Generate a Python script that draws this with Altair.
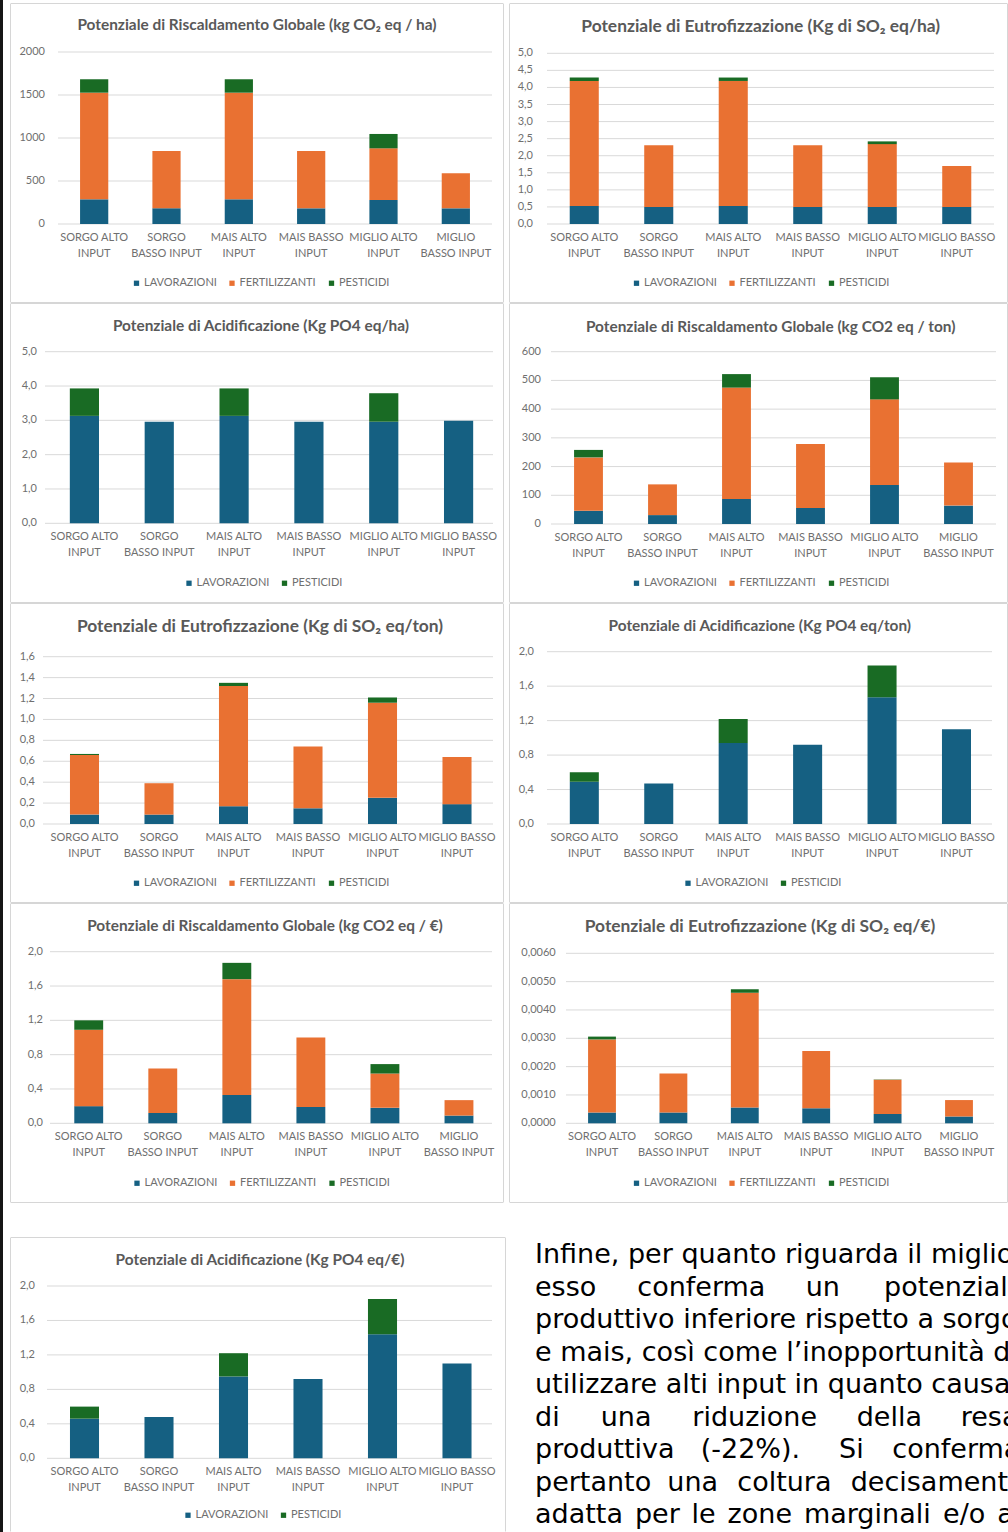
import altair as alt
import pandas as pd

# ---------------------------------------------------------------- data
CATEGORIES = ["SORGO ALTO INPUT", "SORGO BASSO INPUT", "MAIS ALTO INPUT",
              "MAIS BASSO INPUT", "MIGLIO ALTO INPUT", "MIGLIO BASSO INPUT"]

LAV, FERT, PEST = "LAVORAZIONI", "FERTILIZZANTI", "PESTICIDI"

# Global warming potential, kg CO2 eq / ha
GWP_HA_LAV = [287, 182, 287, 182, 279, 182]
GWP_HA_FERT = [1240, 667, 1240, 667, 601, 407]
GWP_HA_PEST = [156, 0, 156, 0, 167, 0]

# Eutrophication potential, kg SO2 eq / ha
EP_HA_LAV = [0.53, 0.50, 0.53, 0.50, 0.50, 0.50]
EP_HA_FERT = [3.66, 1.81, 3.66, 1.81, 1.84, 1.20]
EP_HA_PEST = [0.10, 0.0, 0.10, 0.0, 0.08, 0.0]

# Acidification potential, kg PO4 eq / ha
AP_HA_LAV = [3.13, 2.96, 3.13, 2.96, 2.96, 2.99]
AP_HA_PEST = [0.80, 0.0, 0.80, 0.0, 0.83, 0.0]

# Global warming potential, kg CO2 eq / ton
GWP_TON_LAV = [46, 31, 87, 56, 136, 64]
GWP_TON_FERT = [186, 107, 388, 223, 298, 150]
GWP_TON_PEST = [26, 0, 47, 0, 77, 0]

# Eutrophication potential, kg SO2 eq / ton
EP_TON_LAV = [0.09, 0.09, 0.17, 0.15, 0.25, 0.19]
EP_TON_FERT = [0.57, 0.30, 1.15, 0.59, 0.91, 0.45]
EP_TON_PEST = [0.01, 0.0, 0.03, 0.0, 0.05, 0.0]

# Acidification potential, kg PO4 eq / ton
AP_TON_LAV = [0.49, 0.47, 0.94, 0.92, 1.47, 1.10]
AP_TON_PEST = [0.11, 0.0, 0.28, 0.0, 0.37, 0.0]

# Global warming potential, kg CO2 eq / EUR
GWP_EUR_LAV = [0.20, 0.12, 0.33, 0.19, 0.18, 0.09]
GWP_EUR_FERT = [0.89, 0.52, 1.35, 0.81, 0.40, 0.18]
GWP_EUR_PEST = [0.11, 0.0, 0.19, 0.0, 0.11, 0.0]

# Eutrophication potential, kg SO2 eq / EUR
EP_EUR_LAV = [0.00038, 0.00038, 0.00056, 0.00053, 0.00033, 0.00024]
EP_EUR_FERT = [0.00258, 0.00138, 0.00405, 0.00202, 0.00121, 0.00058]
EP_EUR_PEST = [0.00010, 0.0, 0.00012, 0.0, 0.00001, 0.0]

# Acidification potential, kg PO4 eq / EUR
AP_EUR_LAV = [0.46, 0.48, 0.95, 0.92, 1.44, 1.10]
AP_EUR_PEST = [0.14, 0.0, 0.27, 0.0, 0.41, 0.0]

TITLES = [
    "Potenziale di Riscaldamento Globale (kg CO\u2082 eq / ha)",
    "Potenziale di Eutrofizzazione (Kg di SO\u2082 eq/ha)",
    "Potenziale di Acidificazione (Kg PO4 eq/ha)",
    "Potenziale di Riscaldamento Globale (kg CO2 eq / ton)",
    "Potenziale di Eutrofizzazione (Kg di SO\u2082 eq/ton)",
    "Potenziale di Acidificazione (Kg PO4 eq/ton)",
    "Potenziale di Riscaldamento Globale (kg CO2 eq / \u20ac)",
    "Potenziale di Eutrofizzazione (Kg di SO\u2082 eq/\u20ac)",
    "Potenziale di Acidificazione (Kg PO4 eq/\u20ac)",
]

# y-axis tick values of each chart
TICKS_GWP_HA = [0, 500, 1000, 1500, 2000]
TICKS_EP_HA = [0.0, 0.5, 1.0, 1.5, 2.0, 2.5, 3.0, 3.5, 4.0, 4.5, 5.0]
TICKS_AP_HA = [0.0, 1.0, 2.0, 3.0, 4.0, 5.0]
TICKS_GWP_TON = [0, 100, 200, 300, 400, 500, 600]
TICKS_EP_TON = [0.0, 0.2, 0.4, 0.6, 0.8, 1.0, 1.2, 1.4, 1.6]
TICKS_AP_TON = [0.0, 0.4, 0.8, 1.2, 1.6, 2.0]
TICKS_GWP_EUR = [0.0, 0.4, 0.8, 1.2, 1.6, 2.0]
TICKS_EP_EUR = [0.0, 0.001, 0.002, 0.003, 0.004, 0.005, 0.006]
TICKS_AP_EUR = [0.0, 0.4, 0.8, 1.2, 1.6, 2.0]

# two wrapping styles of the category labels
WRAP_A = [["SORGO ALTO", "INPUT"], ["SORGO", "BASSO INPUT"], ["MAIS ALTO", "INPUT"],
          ["MAIS BASSO", "INPUT"], ["MIGLIO ALTO", "INPUT"], ["MIGLIO", "BASSO INPUT"]]
WRAP_B = [["SORGO ALTO", "INPUT"], ["SORGO", "BASSO INPUT"], ["MAIS ALTO", "INPUT"],
          ["MAIS BASSO", "INPUT"], ["MIGLIO ALTO", "INPUT"], ["MIGLIO BASSO", "INPUT"]]

TEXT_LINES = [
    "Infine, per quanto riguarda il miglio",
    "esso conferma un potenziale",
    "produttivo inferiore rispetto a sorgo",
    "e mais, così come l\u2019inopportunità di",
    "utilizzare alti input in quanto causa",
    "di una riduzione della resa",
    "produttiva (-22%). Si conferma",
    "pertanto una coltura decisamente",
    "adatta per le zone marginali e/o a",
]

# ---------------------------------------------------------------- styling
COLORS = {LAV: "#156082", FERT: "#E97132", PEST: "#196B24"}
FONT = "Lato, 'Noto Sans', sans-serif"
LABEL_COLOR = "#6f6f6f"
TITLE_COLOR = "#595959"
GRID_COLOR = "#d9d9d9"
BORDER_COLOR = "#d6d6d6"

LEFT_W, RIGHT_W = 506, 502
ROW_H = [303, 300, 300, 300, 329]

# justified paragraph layout: word start offsets for stretched lines
TEXT_LEFT = 29
TEXT_BASE = 60.3
TEXT_LEAD = 32.5
WORD_X = {
    1: [29, 131.3, 299.7, 378],
    5: [29, 94.7, 186.3, 350.7, 454.7],
    6: [29, 194.7, 333, 386.3],
    7: [29, 161.3, 231.3, 344.7],
    8: [29, 128.9, 185.6, 221.6, 297.9, 437.1, 491.2],
}

ONE = pd.DataFrame({"k": [0]})


def rule(x1, y1, x2, y2, color=BORDER_COLOR, width=1.0):
    return alt.Chart(ONE).mark_rule(color=color, strokeWidth=width).encode(
        x=alt.value(x1), x2=alt.value(x2), y=alt.value(y1), y2=alt.value(y2))


def block(x1, y1, x2, y2, color):
    return alt.Chart(ONE).mark_rect(color=color, strokeWidth=0).encode(
        x=alt.value(x1), x2=alt.value(x2), y=alt.value(y1), y2=alt.value(y2))


def label_expr(wrap):
    parts = []
    for cat, lines in zip(CATEGORIES, wrap):
        arr = "[" + ",".join("'" + s + "'" for s in lines) + "]"
        parts.append(f"datum.value == '{cat}' ? {arr}")
    return " : ".join(parts) + " : datum.value"


def tick_text(v, decimals):
    if decimals == 0:
        return str(int(round(v)))
    return f"{v:.{decimals}f}".replace(".", ",")


def panel(title, title_size, series, ticks, decimals, wrap, g, col, row):
    names = [s for s, _ in series]
    rows = []
    for si, (s, vals) in enumerate(series):
        for c, v in zip(CATEGORIES, vals):
            rows.append({"cat": c, "series": s, "value": v, "ord": si})
    df = pd.DataFrame(rows)
    w = LEFT_W if col == 0 else RIGHT_W
    h = ROW_H[row]

    yscale = alt.Scale(domain=[ticks[0], ticks[-1]], range=[g["y0"], g["y1"]],
                       nice=False, zero=False)
    xscale = alt.Scale(domain=CATEGORIES, range=[g["x0"], g["x1"]],
                       paddingInner=0.61, paddingOuter=0.305)

    tick_df = pd.DataFrame({"tick": ticks,
                            "lab": [tick_text(t, decimals) for t in ticks]})
    grid = alt.Chart(tick_df).mark_rule(color=GRID_COLOR, strokeWidth=1).encode(
        y=alt.Y("tick:Q", scale=yscale, axis=None),
        x=alt.value(g["gx0"]), x2=alt.value(g["gx1"]))
    ylabels = alt.Chart(tick_df).mark_text(
        font=FONT, fontSize=11, color=LABEL_COLOR, align="right",
        baseline="middle").encode(
        y=alt.Y("tick:Q", scale=yscale, axis=None),
        x=alt.value(g["gx0"] - g["lp"]), text="lab:N")

    legend_w = 262 if len(names) == 3 else 159
    bars = alt.Chart(df).mark_bar().encode(
        x=alt.X("cat:N", scale=xscale, axis=alt.Axis(
            title=None, labelExpr=label_expr(wrap), labelAngle=0,
            labelBaseline="top", labelLineHeight=16, labelPadding=7,
            ticks=False, tickSize=0, domain=False, grid=False,
            offset=-(h - g["y0"]), labelFont=FONT, labelFontSize=11,
            labelColor=LABEL_COLOR, labelOverlap=False, labelLimit=200)),
        y=alt.Y("value:Q", stack="zero", scale=yscale, axis=None),
        color=alt.Color("series:N", scale=alt.Scale(
            domain=names, range=[COLORS[n] for n in names]),
            legend=alt.Legend(
                orient="none", legendX=g["lx"] - legend_w / 2,
                legendY=g["ly"] - 5.5, direction="horizontal",
                columns=len(names), title=None, symbolType="square",
                symbolSize=28, symbolStrokeWidth=0, labelFont=FONT,
                labelFontSize=11, labelColor=LABEL_COLOR, labelOffset=2,
                columnPadding=9.5, padding=0, labelLimit=200)),
        order=alt.Order("ord:Q", sort="ascending"),
    )

    heading = alt.Chart(ONE).mark_text(
        text=title, font=FONT, fontWeight="bold", fontSize=title_size,
        color=TITLE_COLOR, align="center", baseline="middle").encode(
        x=alt.value(g["tx"]), y=alt.value(g["ty"]))

    layers = [grid, ylabels, bars, heading]
    # cell frame
    if row < 4:
        top = 3.5 if row == 0 else 0.5
        bottom = h - 0.5
        if col == 0:
            xl, xr = 10.5, 503.5
        else:
            xl, xr = 3.5, 501.5
        layers += [rule(xl, top, xr, top), rule(xl, bottom, xr, bottom),
                   rule(xl, top + 0.5, xl, bottom - 0.5),
                   rule(xr, top + 0.5, xr, bottom - 0.5)]
    else:
        layers += [rule(10.5, 34.5, 505.5, 34.5), rule(10.5, 35, 10.5, h - 0.5),
                   rule(505.5, 35, 505.5, h - 0.5)]
    if col == 0:
        layers.append(block(0, 0, 3, h, "#161616"))
    return alt.layer(*layers).properties(width=w, height=h)


GEO = [
    dict(y0=224, y1=52, x0=58, x1=492, gx0=58, gx1=492, tx=257, ty=25, lx=262, ly=283, lp=13),
    dict(y0=224, y1=53.3, x0=41, x1=488, gx0=41, gx1=488, tx=254.7, ty=27, lx=256, ly=283, lp=14),
    dict(y0=220.3, y1=48.7, x0=47, x1=496, gx0=45, gx1=493, tx=261, ty=23, lx=263, ly=280, lp=8),
    dict(y0=221, y1=48.7, x0=45.5, x1=489.5, gx0=45, gx1=490, tx=264.7, ty=23.7, lx=256, ly=280, lp=10),
    dict(y0=221, y1=53.7, x0=47.25, x1=494.25, gx0=43, gx1=493, tx=260, ty=23.7, lx=262, ly=280, lp=8),
    dict(y0=221, y1=48.7, x0=41.1, x1=487.7, gx0=41, gx1=486, tx=253.8, ty=23, lx=256, ly=280, lp=13),
    dict(y0=220.3, y1=48.7, x0=51.7, x1=496, gx0=50, gx1=492, tx=265, ty=23, lx=262.5, ly=280, lp=7),
    dict(y0=220.3, y1=50.3, x0=60.3, x1=488.7, gx0=60, gx1=488, tx=254, ty=23.7, lx=256, ly=280, lp=10.3),
    dict(y0=255.3, y1=83, x0=47.25, x1=494.25, gx0=47, gx1=492, tx=260, ty=57, lx=262, ly=312, lp=12),
]

T_SMALL, T_BIG = 15.4, 17.4

p1 = panel(TITLES[0], T_SMALL, [(LAV, GWP_HA_LAV), (FERT, GWP_HA_FERT), (PEST, GWP_HA_PEST)],
           TICKS_GWP_HA, 0, WRAP_A, GEO[0], 0, 0)
p2 = panel(TITLES[1], T_BIG, [(LAV, EP_HA_LAV), (FERT, EP_HA_FERT), (PEST, EP_HA_PEST)],
           TICKS_EP_HA, 1, WRAP_B, GEO[1], 1, 0)
p3 = panel(TITLES[2], T_SMALL, [(LAV, AP_HA_LAV), (PEST, AP_HA_PEST)],
           TICKS_AP_HA, 1, WRAP_B, GEO[2], 0, 1)
p4 = panel(TITLES[3], T_SMALL, [(LAV, GWP_TON_LAV), (FERT, GWP_TON_FERT), (PEST, GWP_TON_PEST)],
           TICKS_GWP_TON, 0, WRAP_A, GEO[3], 1, 1)
p5 = panel(TITLES[4], T_BIG, [(LAV, EP_TON_LAV), (FERT, EP_TON_FERT), (PEST, EP_TON_PEST)],
           TICKS_EP_TON, 1, WRAP_B, GEO[4], 0, 2)
p6 = panel(TITLES[5], T_SMALL, [(LAV, AP_TON_LAV), (PEST, AP_TON_PEST)],
           TICKS_AP_TON, 1, WRAP_B, GEO[5], 1, 2)
p7 = panel(TITLES[6], T_SMALL, [(LAV, GWP_EUR_LAV), (FERT, GWP_EUR_FERT), (PEST, GWP_EUR_PEST)],
           TICKS_GWP_EUR, 1, WRAP_A, GEO[6], 0, 3)
p8 = panel(TITLES[7], T_BIG, [(LAV, EP_EUR_LAV), (FERT, EP_EUR_FERT), (PEST, EP_EUR_PEST)],
           TICKS_EP_EUR, 4, WRAP_A, GEO[7], 1, 3)
p9 = panel(TITLES[8], T_SMALL, [(LAV, AP_EUR_LAV), (PEST, AP_EUR_PEST)],
           TICKS_AP_EUR, 1, WRAP_B, GEO[8], 0, 4)

# paragraph of body text beside the last chart
words = []
for i, line in enumerate(TEXT_LINES):
    y = TEXT_BASE + i * TEXT_LEAD
    xs = WORD_X.get(i)
    if xs is None:
        words.append({"t": line, "x": TEXT_LEFT, "y": y})
    else:
        for wd, x in zip(line.split(), xs):
            words.append({"t": wd, "x": x, "y": y})

paragraph = alt.Chart(pd.DataFrame(words)).mark_text(
    font="DejaVu Sans", fontSize=27, align="left", baseline="alphabetic",
    color="#000000", clip=True).encode(
    x=alt.X("x:Q", scale=None, axis=None),
    y=alt.Y("y:Q", scale=None, axis=None),
    text="t:N").properties(width=RIGHT_W, height=ROW_H[4])


def row_of(a, b):
    return alt.hconcat(a, b, spacing=0).resolve_scale(
        color="independent", x="independent", y="independent")


chart = alt.vconcat(
    row_of(p1, p2),
    row_of(p3, p4),
    row_of(p5, p6),
    row_of(p7, p8),
    row_of(p9, paragraph),
    spacing=0,
).resolve_scale(color="independent", x="independent", y="independent").properties(
    padding=0, background="white"
).configure_view(strokeWidth=0).configure_concat(spacing=0)

chart.save("out.html", embed_options={"renderer": "svg", "actions": False})
